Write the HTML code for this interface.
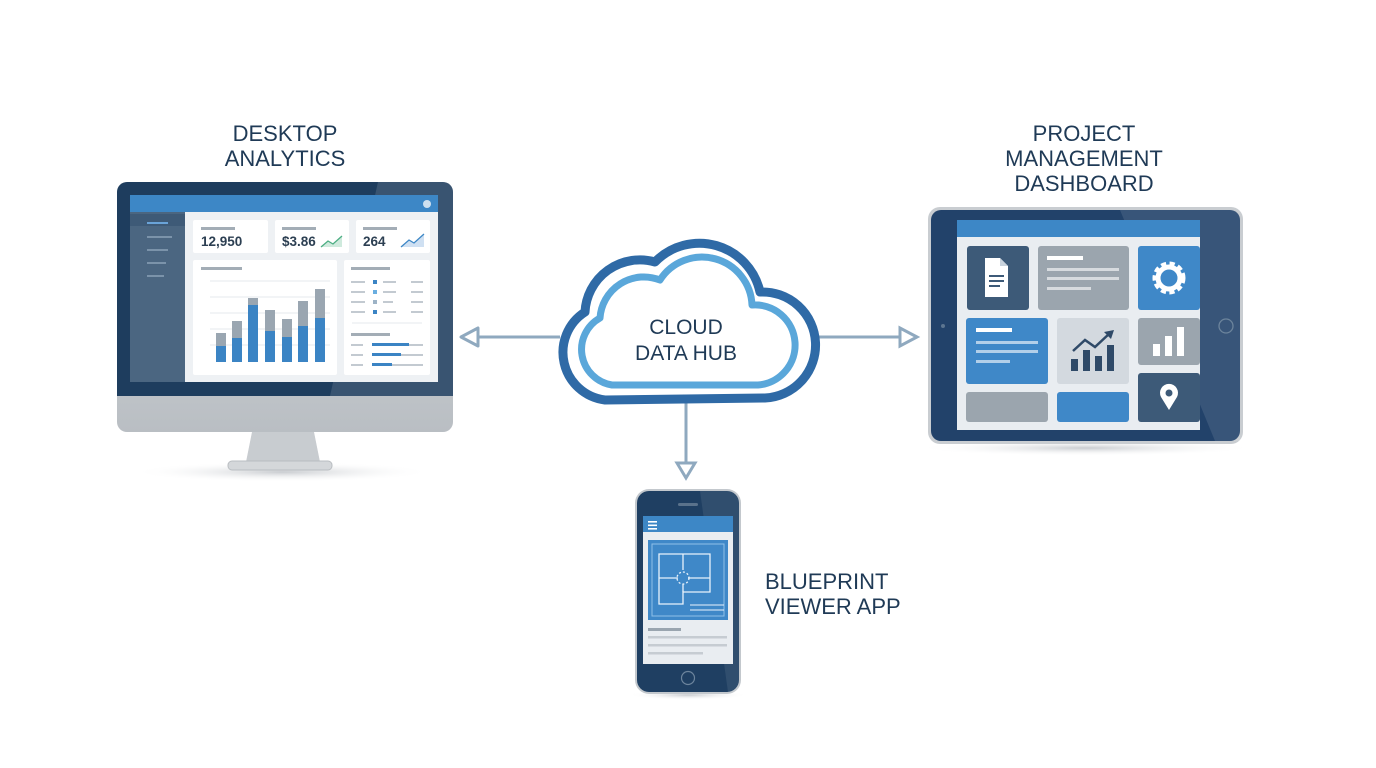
<!DOCTYPE html>
<html><head><meta charset="utf-8"><style>
html,body{margin:0;padding:0;background:#fff;width:1376px;height:768px;overflow:hidden}
svg{display:block}
text{font-family:"Liberation Sans",sans-serif}
</style></head><body>
<svg width="1376" height="768" viewBox="0 0 1376 768" xmlns="http://www.w3.org/2000/svg">
<defs>
<radialGradient id="sh" cx="50%" cy="50%" r="50%"><stop offset="0" stop-color="#c9ccd0"/><stop offset="1" stop-color="#fff" stop-opacity="0"/></radialGradient>
<linearGradient id="silver" x1="0" y1="0" x2="0" y2="1"><stop offset="0" stop-color="#d9dcdf"/><stop offset="1" stop-color="#b9bec3"/></linearGradient>
</defs>
<!-- labels -->
<g fill="#1f3a56" font-size="22" text-anchor="middle">
<text x="285" y="141">DESKTOP</text><text x="285" y="166">ANALYTICS</text>
<text x="1084" y="141">PROJECT</text><text x="1084" y="166">MANAGEMENT</text><text x="1084" y="191">DASHBOARD</text>
</g>
<g fill="#1f3a56" font-size="22"><text x="765" y="589">BLUEPRINT</text><text x="765" y="614">VIEWER APP</text></g>

<!-- connectors -->
<g stroke="#8fa9bf" stroke-width="3" fill="#fff">
<line x1="478" y1="337" x2="560" y2="337"/>
<line x1="812" y1="337" x2="900" y2="337"/>
<line x1="686" y1="395" x2="686" y2="463"/>
<polygon points="461,337 478,328 478,346" stroke-linejoin="round"/>
<polygon points="917,337 900,328 900,346"/>
<polygon points="686,478 677,463 695,463"/>
</g>

<!-- cloud -->
<g fill="none" stroke-linejoin="round">
<path d="M605 400 A48 48 0 0 1 585 312 A55 55 0 0 1 655 262 A62 62 0 0 1 760 292 A53 53 0 0 1 765 398 Z" stroke="#2f6aa6" stroke-width="9" fill="#fff"/>
<path d="M612 385 A36 36 0 0 1 600 318 A44 44 0 0 1 660 280 A50 50 0 0 1 752 305 A40 40 0 0 1 758 385 Z" stroke="#5aa7da" stroke-width="7"/>
</g>
<g fill="#1f3a56" font-size="21" text-anchor="middle"><text x="686" y="334">CLOUD</text><text x="686" y="360">DATA HUB</text></g>

<!-- desktop -->
<ellipse cx="282" cy="472" rx="150" ry="10" fill="url(#sh)"/>
<path d="M252 432 L314 432 L320 462 L246 462 Z" fill="#c8ccd0"/>
<rect x="228" y="461" width="104" height="9" rx="4" fill="#d4d7da" stroke="#b9bdc1"/>
<rect x="117" y="182" width="336" height="250" rx="10" fill="url(#silver)"/>
<path d="M127 182 H443 A10 10 0 0 1 453 192 V396 H117 V192 A10 10 0 0 1 127 182Z" fill="#1e3d5e"/>
<path d="M378 182 H443 A10 10 0 0 1 453 192 V396 H330 Z" fill="#ffffff" opacity="0.12"/>
<rect x="130" y="195" width="308" height="187" fill="#eef1f4"/>
<rect x="130" y="195" width="308" height="17" fill="#3d87c6"/>
<circle cx="427" cy="204" r="4" fill="#cfe0ef"/>
<rect x="130" y="212" width="55" height="170" fill="#4b6681"/>
<rect x="130" y="214" width="55" height="12" fill="#3e5a77"/>
<g fill="#7b93aa"><rect x="147" y="222" width="21" height="2" fill="#6aa3d8"/><rect x="147" y="236" width="25" height="2"/><rect x="147" y="249" width="21" height="2"/><rect x="147" y="262" width="19" height="2"/><rect x="147" y="275" width="17" height="2"/></g>
<g fill="#fff"><rect x="193" y="220" width="75" height="33" rx="2"/><rect x="275" y="220" width="74" height="33" rx="2"/><rect x="356" y="220" width="74" height="33" rx="2"/><rect x="193" y="260" width="144" height="115" rx="2"/><rect x="344" y="260" width="86" height="115" rx="2"/></g>
<g fill="#a3adb6"><rect x="201" y="227" width="34" height="3"/><rect x="282" y="227" width="34" height="3"/><rect x="363" y="227" width="34" height="3"/><rect x="201" y="267" width="41" height="3"/><rect x="351" y="267" width="39" height="3"/><rect x="351" y="333" width="39" height="3"/></g>
<g fill="#2c3f52" font-size="13.5" font-weight="bold"><text x="201" y="246">12,950</text><text x="282" y="246">$3.86</text><text x="363" y="246">264</text></g>
<path d="M321 247 L328 241 L333 244 L342 236 V247Z" fill="#cfeadd"/><polyline points="321,247 328,241 333,244 342,236" fill="none" stroke="#4cae83" stroke-width="1.3"/>
<path d="M401 247 L409 240 L414 243 L424 234 V247Z" fill="#cfe0f2"/><polyline points="401,247 409,240 414,243 424,234" fill="none" stroke="#3d87c6" stroke-width="1.3"/>
<g stroke="#e5e9ed" stroke-width="1"><line x1="210" y1="281" x2="330" y2="281"/><line x1="210" y1="297" x2="330" y2="297"/><line x1="210" y1="313" x2="330" y2="313"/><line x1="210" y1="329" x2="330" y2="329"/><line x1="210" y1="345" x2="330" y2="345"/><line x1="352" y1="323" x2="422" y2="323"/></g>
<g fill="#9aa6b1">
<rect x="216" y="333" width="10" height="29"/><rect x="232" y="321" width="10" height="41"/><rect x="248" y="298" width="10" height="64"/><rect x="265" y="310" width="10" height="52"/><rect x="282" y="319" width="10" height="43"/><rect x="298" y="301" width="10" height="61"/><rect x="315" y="289" width="10" height="73"/></g>
<g fill="#3b84c4">
<rect x="216" y="346" width="10" height="16"/><rect x="232" y="338" width="10" height="24"/><rect x="248" y="305" width="10" height="57"/><rect x="265" y="331" width="10" height="31"/><rect x="282" y="337" width="10" height="25"/><rect x="298" y="326" width="10" height="36"/><rect x="315" y="318" width="10" height="44"/></g>
<g fill="#c3cad1"><rect x="351" y="281" width="14" height="2"/><rect x="351" y="291" width="14" height="2"/><rect x="351" y="301" width="14" height="2"/><rect x="351" y="311" width="14" height="2"/><rect x="383" y="281" width="13" height="2"/><rect x="383" y="291" width="13" height="2"/><rect x="383" y="301" width="10" height="2"/><rect x="383" y="311" width="13" height="2"/><rect x="411" y="281" width="12" height="2"/><rect x="411" y="291" width="12" height="2"/><rect x="411" y="301" width="12" height="2"/><rect x="411" y="311" width="12" height="2"/>
<rect x="351" y="344" width="12" height="2"/><rect x="351" y="354" width="12" height="2"/><rect x="351" y="364" width="12" height="2"/><rect x="372" y="344" width="51" height="2"/><rect x="372" y="354" width="51" height="2"/><rect x="372" y="364" width="51" height="2"/></g>
<g fill="#3b84c4"><rect x="373" y="280" width="4" height="4"/><rect x="373" y="290" width="4" height="4" fill="#6aaee0"/><rect x="373" y="300" width="4" height="4" fill="#9db3c6"/><rect x="373" y="310" width="4" height="4"/><rect x="372" y="343" width="37" height="3"/><rect x="372" y="353" width="29" height="3"/><rect x="372" y="363" width="20" height="3"/></g>

<!-- tablet -->
<ellipse cx="1086" cy="448" rx="170" ry="8" fill="url(#sh)"/>
<rect x="928" y="207" width="315" height="237" rx="12" fill="#c9cdd1"/>
<rect x="931" y="210" width="309" height="231" rx="10" fill="#22426a"/>
<path d="M1120 210 H1230 A10 10 0 0 1 1240 220 V441 H1215 Z" fill="#fff" opacity="0.1"/>
<circle cx="943" cy="326" r="2" fill="#5c7590"/>
<circle cx="1226" cy="326" r="7" fill="none" stroke="#6c849c" stroke-width="1.3"/>
<rect x="957" y="220" width="243" height="210" fill="#e9edf1"/>
<rect x="957" y="220" width="243" height="17" fill="#3d87c6"/>
<rect x="967" y="246" width="62" height="64" rx="3" fill="#3d5a78"/>
<path d="M985 258 H1000 L1008 266 V297 H985 Z" fill="#fff"/><path d="M1000 258 V266 H1008" fill="#c8d2dc"/>
<g fill="#3d5a78"><rect x="989" y="275" width="15" height="2"/><rect x="989" y="280" width="15" height="2"/><rect x="989" y="285" width="11" height="2"/></g>
<rect x="1038" y="246" width="91" height="64" rx="3" fill="#9ba5ae"/>
<g fill="#fff"><rect x="1047" y="256" width="36" height="4"/><rect x="1047" y="268" width="72" height="3" opacity=".6"/><rect x="1047" y="277" width="72" height="3" opacity=".6"/><rect x="1047" y="287" width="44" height="3" opacity=".6"/></g>
<rect x="1138" y="246" width="62" height="64" rx="3" fill="#3f88c8"/>
<circle cx="1169" cy="278" r="14" fill="none" stroke="#fff" stroke-width="5" stroke-dasharray="5 3.3"/>
<circle cx="1169" cy="278" r="11" fill="none" stroke="#fff" stroke-width="5"/>
<rect x="966" y="318" width="82" height="66" rx="3" fill="#3f88c8"/>
<g fill="#fff"><rect x="976" y="328" width="36" height="4"/><rect x="976" y="341" width="62" height="3" opacity=".6"/><rect x="976" y="350" width="62" height="3" opacity=".6"/><rect x="976" y="360" width="34" height="3" opacity=".6"/></g>
<rect x="1057" y="318" width="72" height="66" rx="3" fill="#d3d9df"/>
<g fill="#2f4a68"><rect x="1071" y="359" width="7" height="12"/><rect x="1083" y="350" width="7" height="21"/><rect x="1095" y="356" width="7" height="15"/><rect x="1107" y="345" width="7" height="26"/></g>
<polyline points="1073,351 1085,340 1095,347 1110,333" fill="none" stroke="#2f4a68" stroke-width="2.5"/><polygon points="1114,330 1104,332 1111,339" fill="#2f4a68"/>
<rect x="1138" y="318" width="62" height="47" rx="3" fill="#9ba5ae"/>
<g fill="#fff"><rect x="1153" y="344" width="7" height="12"/><rect x="1165" y="336" width="7" height="20"/><rect x="1177" y="327" width="7" height="29"/></g>
<rect x="1138" y="373" width="62" height="49" rx="3" fill="#3d5a78"/>
<path d="M1169 410 L1161 397 A9 9 0 1 1 1177 397 Z" fill="#fff"/><circle cx="1169" cy="393" r="3.5" fill="#3d5a78"/>
<rect x="966" y="392" width="82" height="30" rx="3" fill="#9ba5ae"/>
<rect x="1057" y="392" width="72" height="30" rx="3" fill="#3f88c8"/>

<!-- phone -->
<ellipse cx="688" cy="695" rx="60" ry="5" fill="url(#sh)"/>
<rect x="635" y="489" width="106" height="205" rx="14" fill="#c3c8cd"/>
<rect x="637" y="491" width="102" height="201" rx="12" fill="#1f3f62"/>
<path d="M700 491 H727 A12 12 0 0 1 739 503 V692 H728 Z" fill="#fff" opacity=".08"/>
<rect x="678" y="503" width="20" height="3" rx="1.5" fill="#5a728b"/>
<circle cx="688" cy="678" r="6.5" fill="none" stroke="#6c849c" stroke-width="1.2"/>
<rect x="643" y="516" width="90" height="148" fill="#e9edf1"/>
<rect x="643" y="516" width="90" height="16" fill="#3d87c6"/>
<g fill="#fff"><rect x="648" y="521" width="9" height="1.6"/><rect x="648" y="524.5" width="9" height="1.6"/><rect x="648" y="528" width="9" height="1.6"/></g>
<rect x="648" y="540" width="80" height="80" fill="#3f88c8"/>
<rect x="652" y="544" width="72" height="72" fill="none" stroke="#8fc0e8" stroke-width="1"/>
<g fill="none" stroke="#e8f2fb" stroke-width="1.3">
<path d="M659 554 H710 V592 H683 V604 H659 Z"/><path d="M659 578 H678 M688 578 H710 M683 554 V570 M683 584 V592"/>
<circle cx="683" cy="578" r="6" stroke-dasharray="2 2"/>
<path d="M690 605 H724 M690 610 H724" stroke-width="1"/>
</g>
<rect x="648" y="628" width="33" height="3" fill="#9aa5af"/>
<g fill="#c6ccd2"><rect x="648" y="636" width="79" height="2.5"/><rect x="648" y="644" width="79" height="2.5"/><rect x="648" y="652" width="55" height="2.5"/></g>
</svg>
</body></html>
